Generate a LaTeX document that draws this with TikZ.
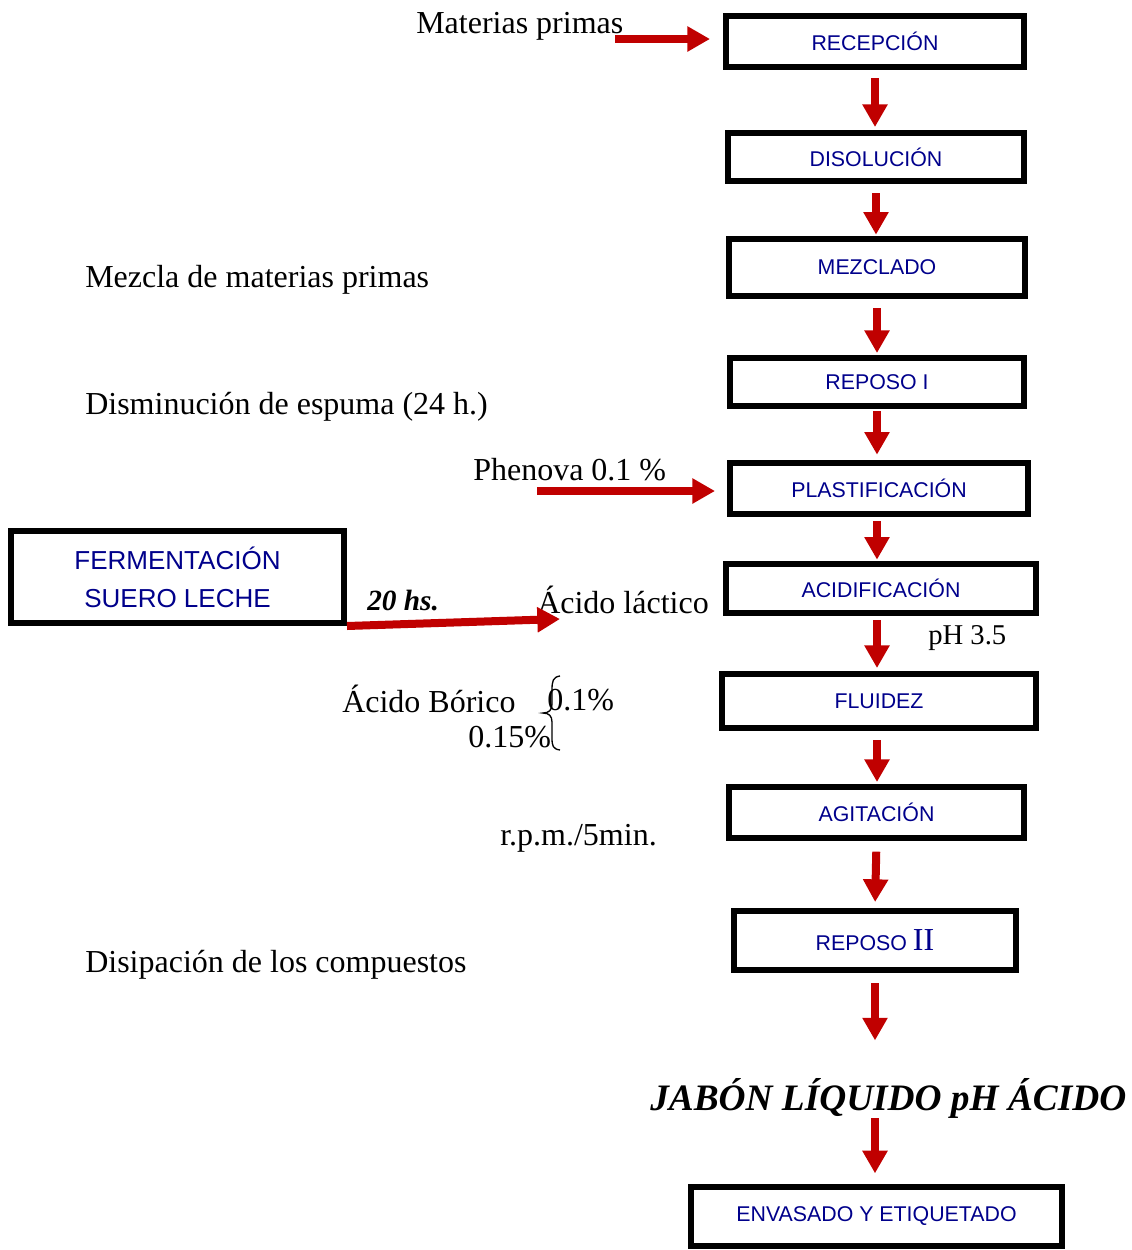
\documentclass[tikz,border=0pt]{standalone}
\usepackage{fontspec}
\setmainfont{Liberation Serif}
\newfontfamily\boxfont{Liberation Sans}
\usetikzlibrary{arrows.meta}
\definecolor{arrred}{RGB}{192,0,0}
\definecolor{boxblue}{RGB}{0,0,139}
\begin{document}
\begin{tikzpicture}[x=0.75pt,y=-0.75pt,
  stepbox/.style 2 args={draw=black, line width=4.5pt, minimum width=#1*0.75pt, minimum height=#2*0.75pt, inner sep=0pt, font=\boxfont\fontsize{16}{19}\selectfont, text=boxblue},
  lbl/.style={anchor=west, inner sep=0pt, font=\fontsize{24}{28}\selectfont},
  arr/.style={draw=arrred, line width=6pt, -{Triangle[length=17pt,width=18pt]}},
  brc/.style={draw=black, line width=1pt}
]
\useasboundingbox (0,0) rectangle (1132,1250);

% process boxes
\node[stepbox={298}{51}] (rec) at (875,41.5) {RECEPCIÓN};
\node[stepbox={296}{48}] (dis) at (876,157) {DISOLUCIÓN};
\node[stepbox={296}{57}] (mez) at (877,267.5) {MEZCLADO};
\node[stepbox={294}{48}] (rep1) at (877,382) {REPOSO I};
\node[stepbox={298}{51}] (pla) at (879,488.5) {PLASTIFICACIÓN};
\node[stepbox={310}{49}] (aci) at (881,588.5) {ACIDIFICACIÓN};
\node[stepbox={314}{54}] (flu) at (879,701) {FLUIDEZ};
\node[stepbox={295}{51}] (agi) at (876.5,812.5) {AGITACIÓN};
\node[stepbox={282}{59}] (rep2) at (875,940.5) {REPOSO {\rmfamily\fontsize{24}{26}\selectfont II}};
\node[stepbox={371}{59}] (env) at (876.5,1216.5) {ENVASADO Y ETIQUETADO};
\node[stepbox={333}{92}, align=center, font=\boxfont\fontsize{19.5}{28.5}\selectfont] (fer) at (177.5,577) {FERMENTACIÓN\\SUERO LECHE};

% labels
\node[lbl] (mp) at (416,26) {Materias primas};
\node[lbl] (mezl) at (85,280) {Mezcla de materias primas};
\node[lbl] (dise) at (85,407) {Disminución de espuma (24 h.)};
\node[lbl] (phe) at (473,470) {Phenova 0.1 \%};
\node[lbl] (lac) at (537,600) {Ácido láctico};
\node[lbl, font=\bfseries\itshape\fontsize{22}{26}\selectfont] (hs) at (367,601) {20 hs.};
\node[lbl, font=\fontsize{21.5}{25}\selectfont] (ph) at (928,638) {pH 3.5};
\node[lbl] (bor) at (342,699) {Ácido Bórico};
\node[lbl] (p1) at (547,700) {0.1\%};
\node[lbl] (p15) at (468,737) {0.15\%};
\node[lbl] (rpm) at (500,838) {r.p.m./5min.};
\node[lbl] (disi) at (85,965) {Disipación de los compuestos};
\node[lbl, font=\bfseries\itshape\fontsize{28}{32}\selectfont] (jab) at (650,1098) {JABÓN LÍQUIDO pH ÁCIDO};

% brace
\draw[brc] (560,676) .. controls (553,677) and (552,681) .. (552,690) -- (552,704)
  .. controls (552,710) and (549,713) .. (543,713)
  .. controls (549,713) and (552,716) .. (552,722) -- (552,738)
  .. controls (552,746) and (553,749) .. (560,750);

% free ends
\coordinate (mps) at (615,39);
\coordinate (phs) at (537,491);
\coordinate (lacend) at (560,619);

% arrows
\draw[arr, shorten >=9.75pt] (mps) -- (rec.west |- mps);
\draw[arr, shorten <=6pt, shorten >=2.25pt] (rec.south) -- (rec.south |- dis.north);
\draw[arr, shorten <=7pt, shorten >=1pt] (dis.south) -- (dis.south |- mez.north);
\draw[arr, shorten <=7pt, shorten >=1.5pt] (mez.south) -- (mez.south |- rep1.north);
\draw[arr, shorten <=1.5pt, shorten >=4pt] (rep1.south) -- (rep1.south |- pla.north);
\draw[arr, shorten <=3pt, shorten >=1pt] (rep1.south |- pla.south) -- (rep1.south |- aci.north);
\draw[arr, shorten <=3pt, shorten >=2.25pt] (rep1.south |- aci.south) -- (rep1.south |- flu.north);
\draw[arr, shorten <=7pt, shorten >=1.5pt] (rep1.south |- flu.south) -- (rep1.south |- agi.north);
\draw[arr, shorten <=8pt, shorten >=4.5pt] (agi.south) -- (rep2.north);
\draw[arr, shorten <=7.5pt, shorten >=28pt] (rep2.south) -- (rep2.south |- jab.north);
\draw[arr, shorten <=0pt, shorten >=8pt] (rep2.south |- jab.south) -- (rep2.south |- env.north);
\draw[arr, shorten >=9pt] (phs) -- (pla.west |- phs);
\draw[arr] (fer.south east) -- (lacend);
\end{tikzpicture}
\end{document}
